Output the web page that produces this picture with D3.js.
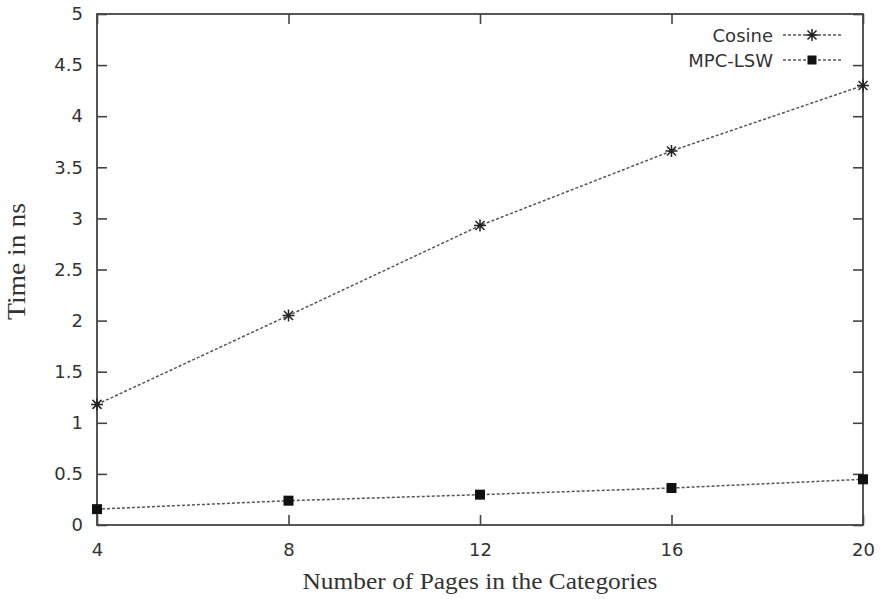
<!DOCTYPE html>
<html>
<head>
<meta charset="utf-8">
<script src="https://cdn.jsdelivr.net/npm/d3@7"></script>
<style>
  html, body { margin: 0; padding: 0; background: #fff; }
  svg { display: block; }
</style>
</head>
<body>
<svg id="chart" width="881" height="599"></svg>
<script>
// Category values along x: number of pages
const pages = [4, 8, 12, 16, 20];
// Execution time (ns) per method
const cosineTimes = [1.18, 2.05, 2.93, 3.66, 4.30];
const mpcLswTimes = [0.155, 0.238, 0.297, 0.362, 0.447];
// Tick values
const xTicks = [4, 8, 12, 16, 20];
const yTicks = [0, 0.5, 1, 1.5, 2, 2.5, 3, 3.5, 4, 4.5, 5];
const seriesNames = ["Cosine", "MPC-LSW"];

const svg = d3.select("#chart");
const margin = { left: 97, right: 18, top: 14, bottom: 74 };
const W = 881, H = 599;
const x = d3.scaleLinear().domain([4, 20]).range([margin.left, W - margin.right]);
const y = d3.scaleLinear().domain([0, 5]).range([H - margin.bottom, margin.top]);

const frameColor = "#444";
const tickLen = 10;
const labelFont = "'DejaVu Sans', sans-serif";
const titleFont = "'Liberation Serif', 'Times New Roman', serif";

// Axes with inward ticks on all four sides
const axisLeft = d3.axisLeft(y).tickValues(yTicks).tickSize(-tickLen).tickPadding(14)
  .tickFormat(d => d3.format("~g")(d));
const axisRight = d3.axisRight(y).tickValues(yTicks).tickSize(-tickLen).tickFormat("");
const axisBottom = d3.axisBottom(x).tickValues(xTicks).tickSize(-tickLen).tickPadding(18);
const axisTop = d3.axisTop(x).tickValues(xTicks).tickSize(-tickLen).tickFormat("");

function styleAxis(g) {
  g.select(".domain").remove();
  g.selectAll(".tick line").attr("stroke", frameColor).attr("stroke-width", 1.6);
  g.selectAll(".tick text").attr("fill", "#333")
    .style("font-family", labelFont).style("font-size", "18px");
}

svg.append("g").attr("transform", `translate(${margin.left},0)`).call(axisLeft).call(styleAxis);
svg.append("g").attr("transform", `translate(${W - margin.right},0)`).call(axisRight).call(styleAxis);
svg.append("g").attr("transform", `translate(0,${H - margin.bottom})`).call(axisBottom).call(styleAxis);
svg.append("g").attr("transform", `translate(0,${margin.top})`).call(axisTop).call(styleAxis);

// Plot frame
svg.append("rect")
  .attr("x", x(4)).attr("y", y(5))
  .attr("width", x(20) - x(4)).attr("height", y(0) - y(5))
  .attr("fill", "none").attr("stroke", frameColor).attr("stroke-width", 1.8);

// Axis titles
svg.append("text")
  .attr("x", (x(4) + x(20)) / 2).attr("y", 589)
  .attr("text-anchor", "middle")
  .attr("textLength", 355).attr("lengthAdjust", "spacingAndGlyphs")
  .style("font-family", titleFont).style("font-size", "23px").attr("fill", "#333")
  .text("Number of Pages in the Categories");

svg.append("text")
  .attr("transform", "translate(25,261.5) rotate(-90)")
  .attr("text-anchor", "middle")
  .attr("textLength", 117).attr("lengthAdjust", "spacingAndGlyphs")
  .style("font-family", titleFont).style("font-size", "25px").attr("fill", "#333")
  .text("Time in ns");

// Markers
function drawStar(g, cx, cy, r) {
  const d = `M${cx - r},${cy}L${cx + r},${cy}M${cx},${cy - r}L${cx},${cy + r}` +
    `M${cx - r * 0.75},${cy - r * 0.75}L${cx + r * 0.75},${cy + r * 0.75}` +
    `M${cx - r * 0.75},${cy + r * 0.75}L${cx + r * 0.75},${cy - r * 0.75}`;
  g.append("path").attr("d", d).attr("stroke", "#222").attr("stroke-width", 1.5).attr("fill", "none");
}
function drawSquare(g, cx, cy, s) {
  g.append("rect").attr("x", cx - s / 2).attr("y", cy - s / 2)
    .attr("width", s).attr("height", s).attr("fill", "#111");
}

const line = d3.line().x(d => x(d[0])).y(d => y(d[1]));
const series = [
  { name: seriesNames[0], values: cosineTimes, marker: "star" },
  { name: seriesNames[1], values: mpcLswTimes, marker: "square" }
];

const plot = svg.append("g");
series.forEach(s => {
  const pts = pages.map((p, i) => [p, s.values[i]]);
  plot.append("path").datum(pts).attr("d", line)
    .attr("fill", "none").attr("stroke", "#555")
    .attr("stroke-width", 1.5).attr("stroke-dasharray", "3,2");
  pts.forEach(p => {
    if (s.marker === "star") drawStar(plot, x(p[0]), y(p[1]), 6);
    else drawSquare(plot, x(p[0]), y(p[1]), 10);
  });
});

// Legend
const legend = svg.append("g");
series.forEach((s, i) => {
  const cy = 35 + i * 25;
  legend.append("text").attr("x", 773).attr("y", cy + 7)
    .attr("text-anchor", "end").attr("fill", "#333")
    .style("font-family", labelFont).style("font-size", "18px")
    .text(s.name);
  legend.append("line").attr("x1", 783).attr("x2", 841).attr("y1", cy).attr("y2", cy)
    .attr("stroke", "#555").attr("stroke-width", 1.5).attr("stroke-dasharray", "3,2");
  if (s.marker === "star") drawStar(legend, 812, cy, 6);
  else drawSquare(legend, 812, cy, 9);
});
</script>
</body>
</html>
